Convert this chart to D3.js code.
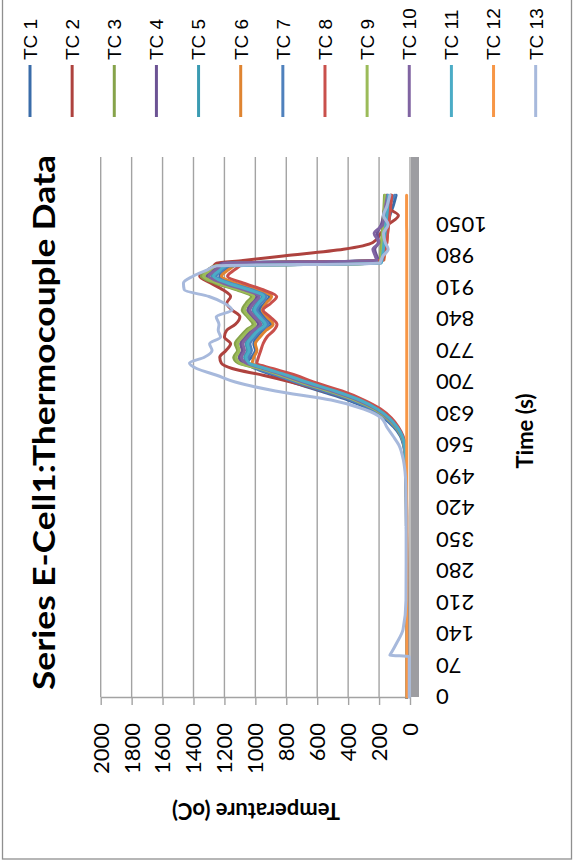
<!DOCTYPE html>
<html><head><meta charset="utf-8">
<script src="https://cdn.jsdelivr.net/npm/d3@7"></script>
<style>html,body{margin:0;padding:0;background:#fff;} svg{display:block;}</style>
</head><body>
<svg id="chart" width="573" height="861"></svg>
<script>
const seriesNames = ["TC 1","TC 2","TC 3","TC 4","TC 5","TC 6","TC 7","TC 8","TC 9","TC 10","TC 11","TC 12","TC 13"];
const seriesColors = ["#3A6CA9","#AE423E","#86A34A","#6C5394","#3B9BB2","#DF8431","#4F81BD","#C9504C","#9BBB59","#8064A2","#4BACC6","#F79646","#A7B9DC"];
const tempTicks = [0,200,400,600,800,1000,1200,1400,1600,1800,2000];
const timeTicks = [0,70,140,210,280,350,420,490,560,630,700,770,840,910,980,1050];
const times = [0,90,93,100,120,150,215,300,400,470,500,530,560,580,600,620,640,660,680,700,715,730,742,755,770,785,800,815,828,845,860,875,890,905,920,935,948,958,964,970,980,995,1010,1030,1050,1070,1090,1115];

const tc1  = [22,22,22,22,22,22,22,22,23,24,26,31,42,62,105,170,265,400,580,760,880,1000,1060,1025,1000,1010,990,950,900,940,975,940,910,1000,1150,1230,1200,1160,1140,185,175,165,155,148,140,130,110,90];
const tc2  = [22,22,22,22,22,22,22,22,23,24,25,28,36,55,92,155,245,375,560,770,950,1150,1220,1230,1190,1160,1200,1185,1130,1100,1150,1185,1160,1210,1290,1360,1310,1270,1250,1080,820,430,240,190,140,75,150,125];
const tc3  = [22,22,22,22,22,22,22,22,23,24,26,30,38,55,92,150,235,362,530,715,840,975,1110,1140,1115,1130,1100,1060,1015,1050,1085,1060,1025,1120,1260,1350,1310,1260,200,195,190,188,185,180,178,172,168,165];
const tc4  = [22,22,22,22,22,22,22,22,23,24,26,30,36,52,88,142,225,345,510,695,820,955,1070,1105,1085,1095,1065,1025,980,1020,1050,1025,990,1085,1225,1315,1275,1235,1215,205,215,228,205,212,185,172,162,150];
const tc5  = [21,21,21,21,21,21,21,22,22,23,25,29,35,50,84,136,215,330,490,675,800,940,1050,1070,1050,1060,1030,990,945,985,1015,990,955,1050,1190,1280,1240,1200,1180,180,172,165,158,152,146,140,132,125];
const tc6  = [21,21,21,21,21,21,21,22,22,23,25,28,33,48,80,130,205,315,470,655,780,920,1020,1010,990,1000,970,930,885,925,955,930,895,990,1130,1220,1180,1140,1120,170,165,158,150,145,140,135,128,120];
const tc7  = [22,22,22,22,22,22,22,22,23,24,26,30,40,58,98,160,250,380,555,740,860,985,1050,1045,1025,1035,1005,965,920,960,990,965,930,1025,1165,1255,1215,1175,190,182,176,170,165,158,150,143,135,100];
const tc8  = [21,21,21,21,21,21,21,21,22,23,24,27,32,45,75,120,190,298,440,625,740,890,990,980,965,950,925,880,860,905,950,900,862,950,1080,1180,1140,1100,1080,175,168,160,150,145,138,132,125,118];
const tc9  = [22,22,22,22,22,22,22,22,23,24,26,30,38,55,92,148,232,356,525,710,835,970,1100,1125,1105,1115,1085,1045,1000,1040,1070,1045,1010,1105,1245,1335,1295,1255,195,190,186,182,180,176,172,168,164,160];
const tc10 = [21,21,21,21,21,21,21,22,22,23,25,29,36,52,86,140,220,340,505,690,815,950,1060,1090,1070,1080,1050,1010,965,1005,1035,1010,975,1070,1210,1300,1260,1220,1200,215,225,240,200,232,175,165,158,145];
const tc11 = [21,21,21,21,21,21,21,22,22,23,25,29,35,50,84,135,212,325,485,670,795,935,1040,1060,1040,1050,1020,980,935,975,1005,980,945,1040,1180,1270,1230,1190,188,182,178,172,168,162,156,150,145,140];
const tc12 = [21,21,21,21,21,21,21,21,21,21,21,21,21,21,21,21,21,21,21,21,21,21,21,21,21,21,21,21,21,21,21,21,21,21,21,21,21,21,21,21,21,21,21,21,22,22,22,22];
const tc13 = [5,5,130,118,86,45,26,25,25,27,32,45,72,110,150,185,300,510,870,1130,1250,1380,1426,1330,1280,1296,1225,1240,1235,1253,1150,1200,1300,1460,1465,1404,1318,1250,195,188,175,141,160,172,141,172,150,130];
const seriesValues = [tc1,tc2,tc3,tc4,tc5,tc6,tc7,tc8,tc9,tc10,tc11,tc12,tc13];

const svg = d3.select("#chart");
const x = d3.scaleLinear().domain([0, 2000]).range([410, 100.7]);
const y = d3.scaleLinear().domain([0, 1200]).range([697, 157]);
const gridColor = "#a3a3a3";

// outer frame
svg.append("rect").attr("x", 2.5).attr("y", -10).attr("width", 569).attr("height", 869)
  .attr("fill", "none").attr("stroke", "#8f8f8f").attr("stroke-width", 1.3);

// gridlines
svg.append("g").selectAll("line").data(tempTicks).join("line")
  .attr("x1", d => x(d)).attr("x2", d => x(d))
  .attr("y1", y(1200)).attr("y2", y(0))
  .attr("stroke", gridColor).attr("stroke-width", 1.4);

// value axis
const ax = svg.append("g").attr("transform", `translate(0,${y(0)})`)
  .call(d3.axisBottom(x).tickValues(tempTicks).tickSize(8).tickSizeOuter(0).tickFormat(""));
ax.select(".domain").attr("stroke", gridColor).attr("stroke-width", 1.4);
ax.selectAll(".tick line").attr("stroke", gridColor).attr("stroke-width", 1.4);

// value tick labels
svg.append("g").selectAll("text").data(tempTicks).join("text")
  .attr("transform", d => `translate(${x(d)},723) rotate(-90)`)
  .attr("text-anchor", "end").attr("dy", "0.36em")
  .style("font-family", "Lato, sans-serif").style("font-size", "22px").attr("fill", "#000")
  .text(d => d);

// time tick labels
svg.append("g").selectAll("text").data(timeTicks).join("text")
  .attr("transform", d => `translate(436,${y(d)}) rotate(180)`)
  .attr("text-anchor", "end").attr("dy", "0.36em")
  .style("font-family", "Lato, sans-serif").style("font-size", "22px").attr("fill", "#000")
  .text(d => d);

// series
const line = d3.line().x(d => x(d.v)).y(d => y(d.t)).curve(d3.curveMonotoneY);
const gLines = svg.append("g");
seriesValues.forEach((vals, i) => {
  const pts = times.map((t, k) => ({t: t, v: vals[k]})).reverse();
  gLines.append("path").datum(pts).attr("d", line)
    .attr("fill", "none").attr("stroke", seriesColors[i])
    .attr("stroke-width", 3).attr("stroke-linejoin", "round").attr("stroke-linecap", "round");
});

// category axis band
svg.append("rect").attr("x", x(0) + 1).attr("y", y(1200)).attr("width", 8).attr("height", y(0) - y(1200))
  .attr("fill", "#9d9da1");

// legend
const lg = svg.append("g").selectAll("g").data(seriesNames).join("g")
  .attr("transform", (d, i) => `translate(${30 + 42.14 * i},0)`);
lg.append("line").attr("x1", 0).attr("x2", 0).attr("y1", 65).attr("y2", 117)
  .attr("stroke", (d, i) => seriesColors[i]).attr("stroke-width", 3);
lg.append("text").attr("transform", "translate(0,60) rotate(-90)")
  .attr("text-anchor", "start").attr("dy", "0.36em")
  .style("font-family", "'Liberation Sans', Arial, sans-serif").style("font-size", "19px").attr("fill", "#000")
  .text(d => d);

// title
svg.append("text").attr("transform", "translate(55,422.5) rotate(-90)")
  .attr("text-anchor", "middle")
  .attr("textLength", 535).attr("lengthAdjust", "spacingAndGlyphs")
  .style("font-family", "Lato, sans-serif").style("font-weight", "bold").style("font-size", "31px")
  .attr("fill", "#000").text("Series E-Cell1:Thermocouple Data");

// axis titles
svg.append("text").attr("transform", "translate(533,431) rotate(-90)")
  .attr("text-anchor", "middle")
  .style("font-family", "Lato, sans-serif").style("font-weight", "bold").style("font-size", "22px")
  .attr("fill", "#000").text("Time (s)");
svg.append("text").attr("transform", "translate(256,803) rotate(180)")
  .attr("text-anchor", "middle")
  .style("font-family", "Lato, sans-serif").style("font-weight", "bold").style("font-size", "22px")
  .attr("fill", "#000").text("Temperature (oC)");
</script>
</body></html>
